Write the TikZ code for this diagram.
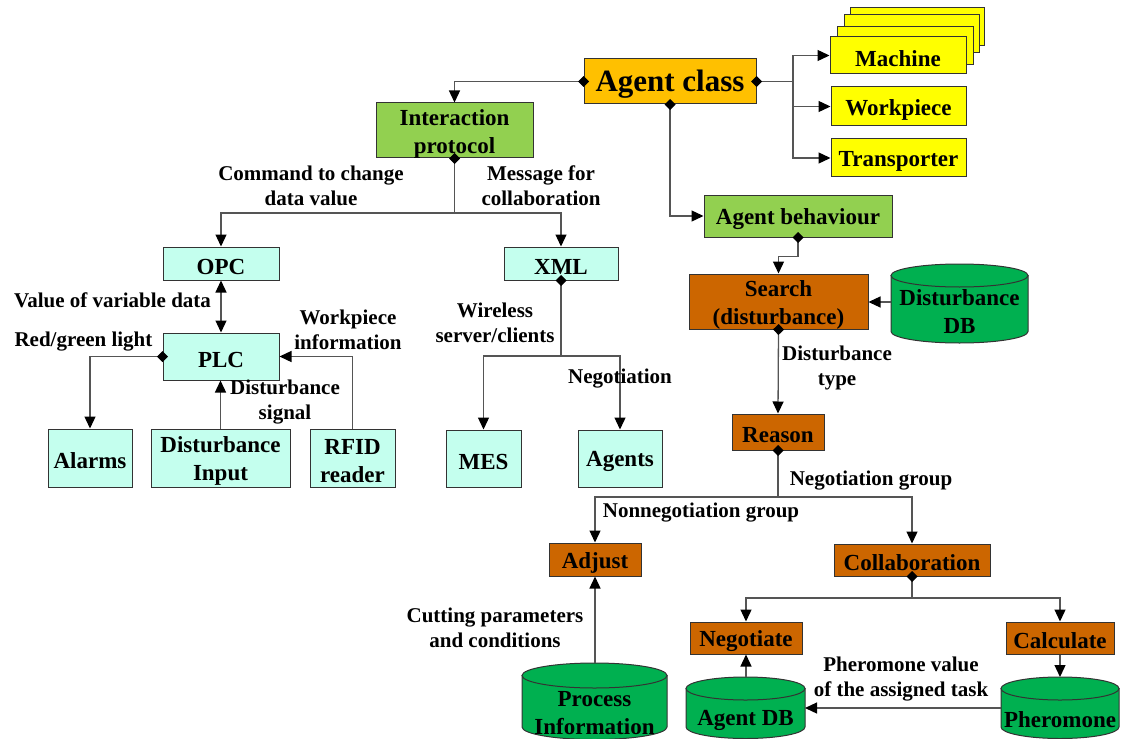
\documentclass[tikz,border=0pt]{standalone}
\usepackage{fontspec}
\setmainfont{Liberation Serif}
\usetikzlibrary{arrows.meta,fit}
\definecolor{cyanbox}{HTML}{C4FFEE}
\definecolor{greenbox}{HTML}{92D050}
\definecolor{orangebox}{HTML}{FFC000}
\definecolor{yellowbox}{HTML}{FFFF00}
\definecolor{brownbox}{HTML}{CC6600}
\definecolor{dbgreen}{HTML}{00B050}
\definecolor{edge}{HTML}{333333}
\definecolor{wire}{HTML}{555555}
\tikzset{
  >={Triangle[length=12pt,width=11pt,color=black]},
  box/.style={draw=edge, line width=1pt, inner sep=0pt},
  cbox/.style={box, fill=cyanbox},
  gbox/.style={box, fill=greenbox},
  obox/.style={box, fill=orangebox},
  ybox/.style={box, fill=yellowbox},
  bbox/.style={box, fill=brownbox},
  lbl/.style={font=\bfseries\fontsize{21}{25}\selectfont, align=center, inner sep=0pt},
  btxt/.style={font=\bfseries\fontsize{23}{28}\selectfont, align=center, inner sep=0pt, yshift=-3pt},
  bigtxt/.style={font=\bfseries\fontsize{31}{36}\selectfont, align=center, inner sep=0pt, yshift=-3pt},
  conn/.style={draw=wire, line width=1.3pt},
  arr/.style={conn, ->},
  dia/.style={conn, {Diamond[length=11pt,width=11pt,color=black]}-, shorten <=-5.5pt},
  diarr/.style={conn, {Diamond[length=11pt,width=11pt,color=black]}->, shorten <=-5.5pt},
  cylline/.style={draw=edge, line width=1pt, fill=dbgreen},
}
\newcommand\dbcyl[5]{%
  \pgfmathsetmacro\cylcx{(#1+#2)/2}%
  \pgfmathsetmacro\cylrx{(#2-#1)/2}%
  \draw[cylline] (#1,#3) -- (#1,#4) arc[start angle=180,end angle=360,x radius=\cylrx pt,y radius=#5 pt] -- (#2,#3) -- cycle;
  \draw[cylline] (\cylcx,#3) ellipse[x radius=\cylrx pt, y radius=#5 pt];
}
\begin{document}
\begin{tikzpicture}[x=1pt,y=-1pt]
\useasboundingbox (0,0) rectangle (1123,738);
\clip (0,0) rectangle (1123,738);

% ---- top: agent class and classes
\node[obox, fit={(584,59) (756,104)}] (ac) {};
\node[bigtxt] (act) at (ac) {Agent class};
\node[ybox, fit={(850,8) (984,46)}] (m4) {};
\node[ybox, fit={(844,15) (979,53)}] (m3) {};
\node[ybox, fit={(837,27) (973,65)}] (m2) {};
\node[ybox, fit={(830,37) (966,74)}] (mach) {};
\node[btxt] (macht) at (mach) {Machine};
\node[ybox, fit={(831,87) (966,126)}] (wp) {};
\node[btxt] (wpt) at (wp) {Workpiece};
\node[ybox, fit={(831,139) (966,177)}] (tr) {};
\node[btxt] (trt) at (tr) {Transporter};
\node[gbox, fit={(376,103) (533,158)}] (ip) {};
\node[btxt] (ipt) at (ip) {Interaction\\protocol};
\node[gbox, fit={(704,195) (892,237)}] (ab) {};
\node[btxt] (abt) at (ab) {Agent behaviour};

% ---- left: communication
\node[cbox, fit={(163,247) (279,280)}] (opc) {};
\node[btxt] (opct) at (opc) {OPC};
\node[cbox, fit={(504,247) (618,280)}] (xml) {};
\node[btxt] (xmlt) at (xml) {XML};
\node[cbox, fit={(163,333) (279,380)}] (plc) {};
\node[btxt] (plct) at (plc) {PLC};
\node[cbox, fit={(48,429) (132,487)}] (alarms) {};
\node[btxt] (alarmst) at (alarms) {Alarms};
\node[cbox, fit={(151,429) (290,487)}] (di) {};
\node[btxt] (dit) at (di) {Disturbance\\Input};
\node[cbox, fit={(310,429) (395,487)}] (rfid) {};
\node[btxt] (rfidt) at (rfid) {RFID\\reader};
\node[cbox, fit={(446,430) (521,487)}] (mes) {};
\node[btxt] (mest) at (mes) {MES};
\node[cbox, fit={(578,430) (662,487)}] (agents) {};
\node[btxt] (agentst) at (agents) {Agents};

% ---- right: behaviour
\node[bbox, fit={(689,274) (868,329)}] (search) {};
\node[btxt] (searcht) at (search) {Search\\(disturbance)};
\node[bbox, fit={(732,414) (824,450)}] (reason) {};
\node[btxt] (reasont) at (reason) {Reason};
\node[bbox, fit={(549,543) (641,576)}] (adjust) {};
\node[btxt] (adjustt) at (adjust) {Adjust};
\node[bbox, fit={(834,544) (990,576)}] (collab) {};
\node[btxt] (collabt) at (collab) {Collaboration};
\node[bbox, fit={(690,622) (802,654)}] (neg) {};
\node[btxt] (negt) at (neg) {Negotiate};
\node[bbox, fit={(1006,622) (1114,654)}] (calc) {};
\node[btxt] (calct) at (calc) {Calculate};

% ---- databases
\dbcyl{891}{1028}{275.5}{331.5}{11.5}
\node[btxt] (ddb) at (959.5,309) {Disturbance\\DB};
\dbcyl{522}{667}{675.5}{727}{12.5}
\node[btxt] (proc) at (594.5,710) {Process\\Information};
\dbcyl{686}{805}{688.5}{727}{11.5}
\node[btxt] (agdb) at (745.5,717) {Agent DB};
\dbcyl{1001}{1119}{688.5}{727}{11.5}
\node[btxt] (pher) at (1060,717) {Pheromone};

\coordinate (ddbL) at (891,302);
\coordinate (procT) at (595,663);
\coordinate (agdbT) at (746,677);
\coordinate (agdbR) at (805,708);
\coordinate (pherT) at (1060,677);
\coordinate (pherL) at (1001,708);

% ---- connectors: top
\draw[diarr] (ac.west) -| (ip.north);
\coordinate (acr) at (793,81.5);
\draw[dia] (ac.east) -- (acr);
\draw[arr] (acr) |- (mach.west);
\draw[arr] (acr) |- (wp.west);
\draw[arr] (acr) |- (tr.west);
\draw[diarr] (ac.south) |- (ab.west);
\draw[diarr] (ab.south) -- ++(0,19) -| (search.north);
\draw[arr] (ddbL) -- (search.east |- ddbL);
\draw[diarr] (search.south) -- (reason.north);
\coordinate (rj) at (778,497);
\draw[dia] (reason.south) -- (rj);
\draw[arr] (rj) -| (adjust.north);
\draw[arr] (rj) -| (collab.north);
\coordinate (cj) at (912,598);
\draw[dia] (collab.south) -- (cj);
\draw[arr] (cj) -| (neg.north);
\draw[arr] (cj) -| (calc.north);
\draw[arr] (calc.south) -- (pherT);
\draw[arr] (agdbT) -- (neg.south);
\draw[arr] (pherL) -- (agdbR);
\draw[arr] (procT) -- (adjust.south);

% ---- connectors: left
\coordinate (ipj) at (454.5,213);
\draw[dia] (ip.south) -- (ipj);
\draw[arr] (ipj) -| (opc.north);
\draw[arr] (ipj) -| (xml.north);
\draw[conn, <->] (opc.south) -- (plc.north);
\draw[diarr] (plc.west) -| (alarms.north);
\draw[arr] (di.north) -- (di.north |- plc.south);
\draw[arr] (rfid.north) |- (plc.east);
\coordinate (xj) at (561,356);
\draw[dia] (xml.south) -- (xj);
\draw[arr] (xj) -| (mes.north);
\draw[arr] (xj) -| (agents.north);

% ---- labels
\node[lbl] (l1) at (311,185.5) {Command to change\\data value};
\node[lbl] (l2) at (541,185.5) {Message for\\collaboration};
\node[lbl] (l3) at (112.5,300) {Value of variable data};
\node[lbl] (l4) at (83.5,342) {Red/green light};
\node[lbl] (l5) at (348,330) {Workpiece\\information};
\node[lbl] (l6) at (285,402.5) {Disturbance\\signal};
\node[lbl] (l7) at (495,323) {Wireless\\server/clients};
\node[lbl] (l8) at (620,379) {Negotiation};
\node[lbl] (l9) at (837,367.5) {Disturbance\\type};
\node[lbl] (l10) at (871,481) {Negotiation group};
\node[lbl] (l11) at (701,513) {Nonnegotiation group};
\node[lbl] (l12) at (495,627.5) {Cutting parameters\\and conditions};
\node[lbl] (l13) at (901,679.5) {Pheromone value\\of the assigned task};
\end{tikzpicture}
\end{document}
